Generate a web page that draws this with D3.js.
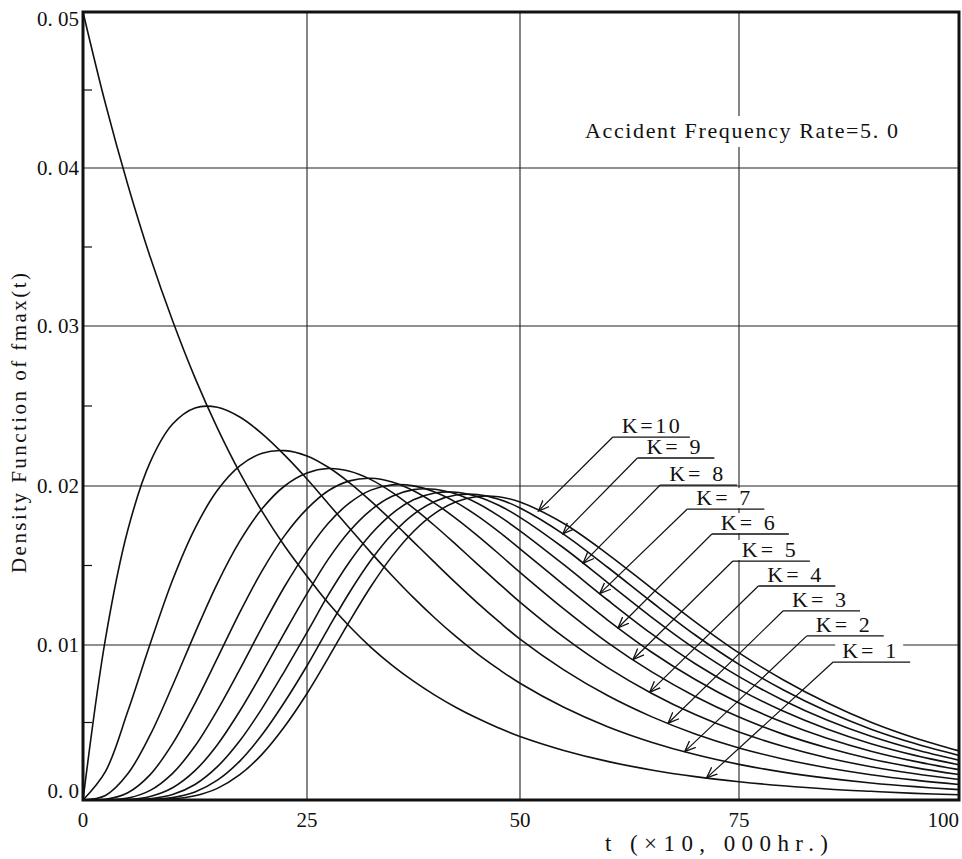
<!DOCTYPE html>
<html>
<head>
<meta charset="utf-8">
<script src="https://cdn.jsdelivr.net/npm/d3@7"></script>
<style>
  html, body { margin: 0; padding: 0; background: #fff; }
  svg text { font-family: "Liberation Serif", "DejaVu Serif", serif; fill: #111; }
</style>
</head>
<body>
<div id="chart"></div>
<script>
// t in units of 10,000 hr
var t = [0, 2.5, 5, 7.5, 10, 12.5, 15, 17.5, 20, 22.5, 25, 27.5, 30, 32.5, 35, 37.5, 40, 42.5, 45, 47.5, 50,
         55, 60, 65, 70, 75, 80, 85, 90, 95, 100];

// density, one array per K
var k1 = [0.0500, 0.04413, 0.03894, 0.03436, 0.03033, 0.02676, 0.02362, 0.02084, 0.01839, 0.01623, 0.01433, 0.01264, 0.01116, 0.00985, 0.00869, 0.00767, 0.00677, 0.00597, 0.00527, 0.00465, 0.00410,
          0.00320, 0.00249, 0.00194, 0.00151, 0.00118, 0.00092, 0.00071, 0.00056, 0.00043, 0.00034];
var k2 = [0, 0.01037, 0.01723, 0.02149, 0.02387, 0.02488, 0.02492, 0.02431, 0.02326, 0.02193, 0.02044, 0.01889, 0.01734, 0.01581, 0.01436, 0.01298, 0.01170, 0.01052, 0.00943, 0.00844, 0.00753,
          0.00598, 0.00473, 0.00373, 0.00293, 0.00230, 0.00180, 0.00141, 0.00110, 0.00086, 0.00067];
var k3 = [0, 0.00183, 0.00572, 0.01008, 0.01409, 0.01734, 0.01973, 0.02126, 0.02205, 0.02221, 0.02188, 0.02117, 0.02020, 0.01905, 0.01780, 0.01649, 0.01518, 0.01389, 0.01265, 0.01148, 0.01037,
          0.00840, 0.00674, 0.00538, 0.00426, 0.00336, 0.00265, 0.00208, 0.00163, 0.00128, 0.00100];
var k4 = [0, 0.00029, 0.00169, 0.00420, 0.00739, 0.01075, 0.01388, 0.01653, 0.01858, 0.02000, 0.02081, 0.02109, 0.02092, 0.02040, 0.01960, 0.01861, 0.01750, 0.01631, 0.01509, 0.01388, 0.01270,
          0.01049, 0.00854, 0.00689, 0.00551, 0.00438, 0.00347, 0.00273, 0.00215, 0.00169, 0.00132];
var k5 = [0, 0.00004, 0.00047, 0.00164, 0.00364, 0.00624, 0.00915, 0.01205, 0.01468, 0.01688, 0.01856, 0.01970, 0.02032, 0.02048, 0.02025, 0.01970, 0.01891, 0.01795, 0.01688, 0.01574, 0.01457,
          0.01227, 0.01015, 0.00828, 0.00668, 0.00535, 0.00425, 0.00337, 0.00265, 0.00209, 0.00164];
var k6 = [0, 0, 0.00012, 0.00062, 0.00172, 0.00348, 0.00580, 0.00843, 0.01114, 0.01368, 0.01589, 0.01766, 0.01894, 0.01974, 0.02007, 0.02001, 0.01962, 0.01897, 0.01812, 0.01713, 0.01605,
          0.01378, 0.01157, 0.00955, 0.00777, 0.00626, 0.00501, 0.00398, 0.00315, 0.00249, 0.00196];
var k7 = [0, 0, 0.00003, 0.00023, 0.00079, 0.00189, 0.00357, 0.00574, 0.00821, 0.01078, 0.01323, 0.01540, 0.01717, 0.01849, 0.01935, 0.01977, 0.01980, 0.01949, 0.01891, 0.01812, 0.01718,
          0.01505, 0.01283, 0.01071, 0.00879, 0.00714, 0.00574, 0.00458, 0.00363, 0.00288, 0.00227];
var k8 = [0, 0, 0.00001, 0.00008, 0.00035, 0.00100, 0.00215, 0.00382, 0.00593, 0.00832, 0.01079, 0.01315, 0.01524, 0.01697, 0.01827, 0.01913, 0.01956, 0.01961, 0.01933, 0.01879, 0.01803,
          0.01610, 0.01393, 0.01176, 0.00975, 0.00796, 0.00644, 0.00516, 0.00411, 0.00326, 0.00257];
var k9 = [0, 0, 0, 0.00003, 0.00016, 0.00052, 0.00128, 0.00251, 0.00422, 0.00632, 0.00866, 0.01105, 0.01332, 0.01533, 0.01698, 0.01822, 0.01903, 0.01943, 0.01946, 0.01917, 0.01862,
          0.01696, 0.01489, 0.01272, 0.01063, 0.00875, 0.00711, 0.00572, 0.00457, 0.00364, 0.00287];
var k10 = [0, 0, 0, 0.00001, 0.00007, 0.00027, 0.00075, 0.00163, 0.00296, 0.00474, 0.00687, 0.00917, 0.01150, 0.01368, 0.01559, 0.01714, 0.01828, 0.01901, 0.01934, 0.01932, 0.01899,
           0.01764, 0.01572, 0.01358, 0.01146, 0.00949, 0.00776, 0.00627, 0.00502, 0.00400, 0.00317];

var series = [k1, k2, k3, k4, k5, k6, k7, k8, k9, k10];
var kLabels = ["K= 1", "K= 2", "K= 3", "K= 4", "K= 5", "K= 6", "K= 7", "K= 8", "K= 9", "K=10"];

// where each arrow touches its curve (t), and the label anchor (t, density)
var arrowT = [71.3, 68.8, 66.9, 64.8, 62.9, 61.2, 59.1, 57.2, 54.9, 52.1];
var labelT = [85.7, 82.7, 80.0, 77.2, 74.3, 71.9, 69.1, 66.0, 63.4, 60.6];
var labelV = [0.00890, 0.01057, 0.01214, 0.01371, 0.01528, 0.01698, 0.01855, 0.02006, 0.02175, 0.02306];

var xTicks = [0, 25, 50, 75, 100];
var xTickLabels = ["0", "25", "50", "75", "100"];
var yTicks = [0, 0.01, 0.02, 0.03, 0.04, 0.05];
var yTickLabels = ["0. 0", "0. 01", "0. 02", "0. 03", "0. 04", "0. 05"];
var yMinor = [0.005, 0.015, 0.025, 0.035, 0.045];

var W = 962, H = 859;
var svg = d3.select("#chart").append("svg")
  .attr("width", W)
  .attr("height", H);

svg.append("rect").attr("width", W).attr("height", H).attr("fill", "#fff");

// scanned graph paper is a little uneven, so the scales are piecewise
var x = d3.scaleLinear().domain(xTicks).range([83, 307, 520, 739, 959]);
var y = d3.scaleLinear().domain(yTicks).range([800, 645, 486, 326, 168, 12]);

var defs = svg.append("defs");
defs.append("marker")
  .attr("id", "arr")
  .attr("viewBox", "0 -6 12 12")
  .attr("refX", 11)
  .attr("refY", 0)
  .attr("markerWidth", 12)
  .attr("markerHeight", 12)
  .attr("markerUnits", "userSpaceOnUse")
  .attr("orient", "auto")
  .append("path")
  .attr("d", "M0,-4.5L11,0L0,4.5")
  .attr("fill", "none")
  .attr("stroke", "#111")
  .attr("stroke-width", 1.3);

// grid
var grid = svg.append("g").attr("stroke", "#222").attr("stroke-width", 1.1);
grid.selectAll(".vx").data(xTicks.slice(1, 4)).enter().append("line")
  .attr("x1", function (d) { return x(d); })
  .attr("x2", function (d) { return x(d); })
  .attr("y1", y(0.05)).attr("y2", y(0));
grid.selectAll(".hy").data(yTicks.slice(1, 5)).enter().append("line")
  .attr("x1", x(0)).attr("x2", x(100))
  .attr("y1", function (d) { return y(d); })
  .attr("y2", function (d) { return y(d); });

// minor ticks on the left edge
svg.append("g").selectAll("line").data(yMinor).enter().append("line")
  .attr("x1", x(0)).attr("x2", x(0) + 9)
  .attr("y1", function (d) { return y(d); })
  .attr("y2", function (d) { return y(d); })
  .attr("stroke", "#111").attr("stroke-width", 1.2);

function valueAt(arr, tt) {
  var i = d3.bisectRight(t, tt) - 1;
  if (i >= t.length - 1) return arr[arr.length - 1];
  var f = (tt - t[i]) / (t[i + 1] - t[i]);
  return arr[i] + f * (arr[i + 1] - arr[i]);
}

// white boxes behind the texts, they break the grid lines
var labels = svg.append("g");

// curves
var line = d3.line()
  .x(function (d, i) { return x(t[i]); })
  .y(function (d) { return y(d); })
  .curve(d3.curveCatmullRom.alpha(0.5));

svg.append("g").selectAll("path").data(series).enter().append("path")
  .attr("d", line)
  .attr("fill", "none")
  .attr("stroke", "#111")
  .attr("stroke-width", 1.6);

// frame
svg.append("rect")
  .attr("x", x(0)).attr("y", y(0.05))
  .attr("width", x(100) - x(0)).attr("height", y(0) - y(0.05))
  .attr("fill", "none").attr("stroke", "#111").attr("stroke-width", 3);

// K labels
var kg = svg.append("g");
series.forEach(function (s, i) {
  var lx = x(labelT[i]), ly = y(labelV[i]);
  var tx = x(arrowT[i]), ty = y(valueAt(s, arrowT[i]));
  var txt = kg.append("text")
    .attr("x", lx + 9).attr("y", ly - 4)
    .attr("font-size", 22)
    .attr("textLength", i == 9 ? 58 : 54)
    .attr("lengthAdjust", "spacing")
    .text(kLabels[i]);
  var bb = txt.node().getBBox();
  labels.append("rect")
    .attr("x", bb.x - 7).attr("y", bb.y + 3)
    .attr("width", bb.width + 14).attr("height", bb.height - 5)
    .attr("fill", "#fff");
  kg.append("line")
    .attr("x1", lx).attr("x2", lx + 77)
    .attr("y1", ly).attr("y2", ly)
    .attr("stroke", "#111").attr("stroke-width", 1.3);
  kg.append("line")
    .attr("x1", lx).attr("y1", ly)
    .attr("x2", tx).attr("y2", ty)
    .attr("stroke", "#111").attr("stroke-width", 1.2)
    .attr("marker-end", "url(#arr)");
});

// note
var note = svg.append("text")
  .attr("x", 585).attr("y", 138)
  .attr("font-size", 22)
  .attr("textLength", 313)
  .attr("lengthAdjust", "spacing")
  .text("Accident Frequency Rate=5. 0");
var nb = note.node().getBBox();
labels.append("rect")
  .attr("x", nb.x - 4).attr("y", nb.y - 2)
  .attr("width", nb.width + 8).attr("height", nb.height + 6)
  .attr("fill", "#fff");

// tick labels
svg.append("g").selectAll("text").data(yTicks).enter().append("text")
  .attr("x", 79)
  .attr("y", function (d) { return y(d); })
  .attr("dy", function (d, i) { return i == 0 ? "-2" : (i == 5 ? "14" : "7"); })
  .attr("text-anchor", "end")
  .attr("font-size", 21)
  .text(function (d, i) { return yTickLabels[i]; });

svg.append("g").selectAll("text").data(xTicks).enter().append("text")
  .attr("x", function (d) { return x(d); })
  .attr("y", 827)
  .attr("text-anchor", function (d, i) { return i == 4 ? "end" : "middle"; })
  .attr("font-size", 21)
  .text(function (d, i) { return xTickLabels[i]; });

// axis titles
svg.append("text")
  .attr("x", 605).attr("y", 851)
  .attr("font-size", 23)
  .attr("textLength", 223)
  .attr("lengthAdjust", "spacing")
  .text("t (×10, 000hr.)");

svg.append("text")
  .attr("transform", "translate(26,573) rotate(-90)")
  .attr("font-size", 21)
  .attr("textLength", 300)
  .attr("lengthAdjust", "spacing")
  .text("Density Function of fmax(t)");
</script>
</body>
</html>
